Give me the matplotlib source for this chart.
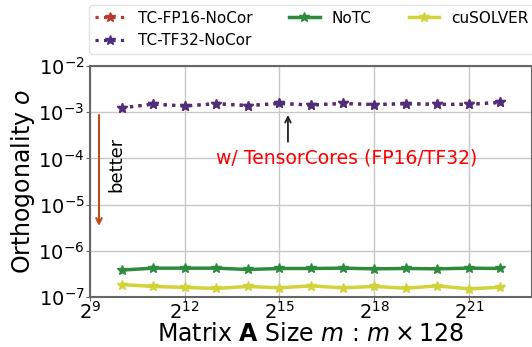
import matplotlib
matplotlib.use("Agg")
import matplotlib.pyplot as plt

# tamanos de matriz (m) y ortogonalidad de cada variante
m = [2**k for k in range(10, 23)]
tc_fp16 = [1.24e-3, 1.50e-3, 1.36e-3, 1.53e-3, 1.39e-3, 1.55e-3, 1.43e-3,
           1.55e-3, 1.46e-3, 1.53e-3, 1.48e-3, 1.48e-3, 1.63e-3]
tc_tf32 = [1.24e-3, 1.50e-3, 1.36e-3, 1.53e-3, 1.39e-3, 1.55e-3, 1.43e-3,
           1.55e-3, 1.46e-3, 1.53e-3, 1.48e-3, 1.48e-3, 1.63e-3]
notc = [3.82e-7, 4.21e-7, 4.21e-7, 4.21e-7, 3.94e-7, 4.14e-7, 4.14e-7,
        4.21e-7, 4.07e-7, 4.14e-7, 4.07e-7, 4.21e-7, 4.14e-7]
cusolver = [1.86e-7, 1.69e-7, 1.61e-7, 1.53e-7, 1.69e-7, 1.58e-7, 1.74e-7,
            1.58e-7, 1.69e-7, 1.55e-7, 1.74e-7, 1.50e-7, 1.63e-7]

fig = plt.figure(figsize=(5.32, 3.47), dpi=100)
ax = fig.add_axes([90/532, 50/347, 442/532, 231/347])

ax.plot(m, tc_fp16, ':', color='#b5392f', lw=2.3, marker='*', ms=7, label='TC-FP16-NoCor')
ax.plot(m, tc_tf32, ':', color='#4e2d7f', lw=2.3, marker='*', ms=7, label='TC-TF32-NoCor')
ax.plot(m, notc, '-', color='#2e8a3c', lw=2.5, marker='*', ms=7, label='NoTC')
ax.plot(m, cusolver, '-', color='#d2d23a', lw=2.5, marker='*', ms=7, label='cuSOLVER')

ax.set_xscale('log', base=2)
ax.set_yscale('log')
ax.set_xlim(2**9, 2**23)
ax.set_ylim(1e-7, 1e-2)
ax.set_xticks([2**9, 2**12, 2**15, 2**18, 2**21])
ax.set_yticks([1e-7, 1e-6, 1e-5, 1e-4, 1e-3, 1e-2])
ax.minorticks_off()
ax.grid(True, color='#c8c8c8', lw=1)
ax.set_axisbelow(True)
for s in ax.spines.values():
    s.set_color('#666666')
    s.set_linewidth(1.5)
ax.tick_params(labelsize=14, length=3, color='#666666', pad=1)
ax.tick_params(axis='x', pad=0)

ax.set_xlabel(r'Matrix $\mathbf{A}$ Size $m$ : $m \times 128$', fontsize=17, labelpad=-1)
ax.set_ylabel(r'Orthogonality $o$', fontsize=17, labelpad=1)

# flecha "better"
ax.annotate('', xy=(2**9.285, 3e-6), xytext=(2**9.285, 1e-3),
            arrowprops=dict(arrowstyle='->', color='#c04a1a', lw=1.5))
ax.text(2**9.85, 10**-4.13, 'better', rotation=90, fontsize=13, ha='center', va='center')

# flecha TensorCores
ax.annotate('', xy=(2**15.27, 1e-3), xytext=(2**15.27, 10**-3.7),
            arrowprops=dict(arrowstyle='->', color='#222222', lw=1.3))
ax.text(2**17.14, 1e-4, 'w/ TensorCores (FP16/TF32)', color='red', fontsize=13.5,
        ha='center', va='center')

ax.legend(ncol=3, fontsize=11, loc='lower left', bbox_to_anchor=(-0.003, 1.05, 1.01, 0.2),
          mode='expand', borderaxespad=0.0, handlelength=2.0, frameon=True,
          edgecolor='#dddddd', fancybox=True)

fig.savefig('out.png', dpi=100)
